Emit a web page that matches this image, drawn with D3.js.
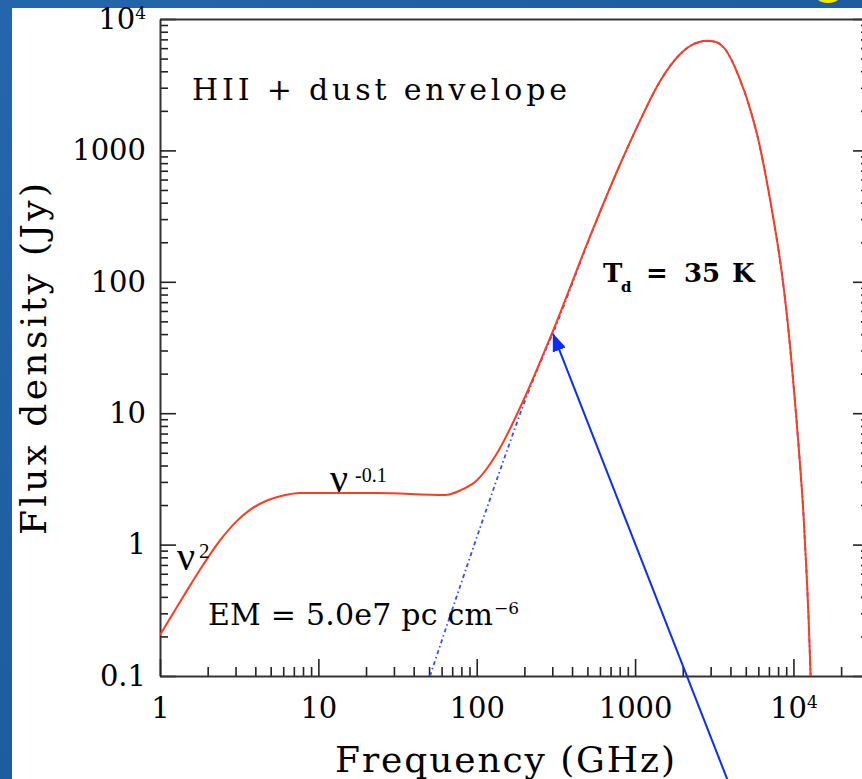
<!DOCTYPE html>
<html>
<head>
<meta charset="utf-8">
<script src="https://cdn.jsdelivr.net/npm/d3@7"></script>
<style>
  body { margin: 0; background: #1c5ca3; }
  svg { display: block; }
</style>
</head>
<body>
<svg id="chart" width="862" height="779"></svg>
<script>
// frequency (GHz) / flux density (Jy)
const freqTotal = [1, 1.397, 1.869, 2.393, 3.063, 3.701, 4.74, 5.981, 7.657, 23.46, 63.06, 78.43, 100.4, 134.3, 196, 303.1, 534.6, 780.3, 1028, 1437, 1922, 2222, 2570, 2846, 3151, 3697, 4531, 5396, 6107, 6761, 7570, 8140, 8718, 9163, 9569, 9951, 10335, 10765, 11130, 11540, 11864, 12196, 12483, 12666, 12833];
const fluxTotal = [0.205, 0.399, 0.699, 1.076, 1.515, 1.837, 2.166, 2.368, 2.475, 2.47, 2.385, 2.58, 3.085, 4.953, 12.32, 42.38, 241.8, 722, 1502, 3362, 5397, 6231, 6706, 6825, 6742, 5911, 3620, 1960, 1099, 595, 275.4, 160, 86.6, 51.2, 30.3, 17.9, 10.57, 5.73, 3.39, 1.8, 0.959, 0.501, 0.262, 0.158, 0.1];

const freqDust = [50.7, 67.82, 86.83, 104.9, 134.3, 162.3, 196, 243.8, 303.1, 534.6, 780.3, 1028, 1437, 1922, 2222, 2570, 2846, 3151, 3697, 4531, 5396, 6107, 6761, 7570, 8140, 8718, 9163, 9569, 9951, 10335, 10765, 11130, 11540, 11864, 12196, 12483, 12666, 12833];
const fluxDust = [0.1, 0.286, 0.687, 1.338, 3.157, 6.036, 11.34, 22.08, 40.77, 239.4, 719.6, 1500, 3360, 5395, 6229, 6704, 6823, 6740, 5909, 3618, 1958, 1097, 593, 274, 159, 86, 50.8, 30, 17.7, 10.45, 5.67, 3.36, 1.79, 0.955, 0.5, 0.262, 0.158, 0.1];

const xMajor = [1, 10, 100, 1000, 10000];
const xLabels = ["1", "10", "100", "1000", "10|4"];
const yMajor = [0.1, 1, 10, 100, 1000, 10000];
const yLabels = ["0.1", "1", "10", "100", "1000", "10|4"];

// arrow annotation, data coords (tail is below the frame)
const arrowFreq = [3818, 303.8];
const arrowFlux = [0.0164, 40];

const plot = {left: 160, top: 19, right: 869, bottom: 676};
const hershey = "'DejaVu Serif', serif";
const times = "'Liberation Serif', 'Times New Roman', serif";

const svg = d3.select("#chart");

// blue slide background + white panel
const defs = svg.append("defs");
const grad = defs.append("linearGradient").attr("id", "bg").attr("x1", 0).attr("y1", 0).attr("x2", 1).attr("y2", 1);
grad.append("stop").attr("offset", 0).attr("stop-color", "#2466ad");
grad.append("stop").attr("offset", 1).attr("stop-color", "#16528f");
svg.append("rect").attr("width", 862).attr("height", 779).attr("fill", "url(#bg)");
svg.append("circle").attr("cx", 828).attr("cy", -15).attr("r", 18).attr("fill", "#f4e400");
svg.append("rect").attr("x", 12).attr("y", 8).attr("width", 850).attr("height", 771).attr("fill", "#fff");

defs.append("clipPath").attr("id", "clip").append("rect")
  .attr("x", plot.left).attr("y", plot.top)
  .attr("width", plot.right - plot.left).attr("height", plot.bottom - plot.top);

const x = d3.scaleLog().domain([1, 3e4]).range([plot.left, plot.right]);
const y = d3.scaleLog().domain([0.1, 1e4]).range([plot.bottom, plot.top]);

function supLabel(sel) {
  sel.each(function() {
    const t = d3.select(this);
    const s = t.text();
    if (s.includes("|")) {
      const [base, exp] = s.split("|");
      t.text(base);
      t.append("tspan").attr("font-size", 17).attr("dy", "-0.55em").text(exp);
    }
  });
}

function styleAxis(g) {
  g.selectAll(".tick line").attr("stroke", "#222").attr("stroke-width", 1.6);
  g.selectAll(".domain").attr("stroke", "#333").attr("stroke-width", 2);
  g.selectAll("text").attr("fill", "#000").attr("font-family", hershey).attr("font-size", 29);
}

// minor ticks
const yMinor = y.ticks().filter(d => !yMajor.includes(d));
const xMinor = x.ticks().filter(d => !xMajor.includes(d));

svg.append("g").attr("transform", `translate(${plot.left},0)`)
  .call(d3.axisLeft(y).tickValues(yMinor).tickSize(-8).tickFormat(""))
  .call(g => g.select(".domain").remove()).call(styleAxis);
svg.append("g").attr("transform", `translate(${plot.right},0)`)
  .call(d3.axisRight(y).tickValues(yMinor).tickSize(-8).tickFormat(""))
  .call(g => g.select(".domain").remove()).call(styleAxis);
svg.append("g").attr("transform", `translate(0,${plot.bottom})`)
  .call(d3.axisBottom(x).tickValues(xMinor).tickSize(-9).tickFormat(""))
  .call(g => g.select(".domain").remove()).call(styleAxis);

// major ticks + labels
svg.append("g").attr("transform", `translate(${plot.left},0)`)
  .call(d3.axisLeft(y).tickValues(yMajor).tickSize(-16).tickSizeOuter(0).tickPadding(14)
    .tickFormat((d, i) => yLabels[i]))
  .call(styleAxis)
  .call(g => g.selectAll("text").call(supLabel));
svg.append("g").attr("transform", `translate(${plot.right},0)`)
  .call(d3.axisRight(y).tickValues(yMajor).tickSize(-16).tickSizeOuter(0).tickFormat(""))
  .call(styleAxis);
svg.append("g").attr("transform", `translate(0,${plot.bottom})`)
  .call(d3.axisBottom(x).tickValues(xMajor).tickSize(-17).tickSizeOuter(0).tickPadding(21)
    .tickFormat((d, i) => xLabels[i]))
  .call(styleAxis)
  .call(g => g.selectAll("text").call(supLabel));
svg.append("g").attr("transform", `translate(0,${plot.top})`)
  .call(d3.axisTop(x).tickValues([]).tickSizeOuter(0))
  .call(styleAxis);

// curves
const line = d3.line().x(d => x(d[0])).y(d => y(d[1])).curve(d3.curveMonotoneX);
const dust = freqDust.map((f, i) => [f, fluxDust[i]]);
const total = freqTotal.map((f, i) => [f, fluxTotal[i]]);

svg.append("path").datum(dust)
  .attr("clip-path", "url(#clip)")
  .attr("d", line).attr("fill", "none")
  .attr("stroke", "#2f4dff").attr("stroke-width", 1.8)
  .attr("stroke-dasharray", "4,3,1.5,3");
svg.append("path").datum(total)
  .attr("clip-path", "url(#clip)")
  .attr("d", line).attr("fill", "none")
  .attr("stroke", "#ff3b1e").attr("stroke-width", 2);

// axis titles
svg.append("text").attr("x", 335).attr("y", 772)
  .attr("font-family", hershey).attr("font-size", 36)
  .attr("textLength", 340).attr("lengthAdjust", "spacing")
  .text("Frequency (GHz)");
svg.append("text").attr("transform", "translate(46,535) rotate(-90)")
  .attr("font-family", hershey).attr("font-size", 36)
  .attr("textLength", 352).attr("lengthAdjust", "spacing")
  .text("Flux density (Jy)");

// annotations
svg.append("text").attr("x", 192).attr("y", 100)
  .attr("font-family", hershey).attr("font-size", 30)
  .attr("textLength", 375).attr("lengthAdjust", "spacing")
  .text("HII + dust envelope");

const em = svg.append("text").attr("font-family", hershey).attr("font-size", 30);
em.append("tspan").attr("x", 208).attr("y", 625)
  .attr("textLength", 285).attr("lengthAdjust", "spacing").text("EM = 5.0e7 pc cm");
em.append("tspan").attr("x", 494).attr("y", 614).attr("font-size", 17).text("\u22126");

const td = svg.append("text").attr("font-family", hershey).attr("font-weight", "bold").attr("font-size", 26);
td.append("tspan").attr("x", 603).attr("y", 282).text("T");
td.append("tspan").attr("x", 621).attr("y", 292).attr("font-size", 15).text("d");
td.append("tspan").attr("x", 646).attr("y", 282).text("=");
td.append("tspan").attr("x", 684).attr("y", 282).text("35");
td.append("tspan").attr("x", 732).attr("y", 282).text("K");

const nu1 = svg.append("text").attr("font-family", times).attr("fill", "#000");
nu1.append("tspan").attr("x", 330).attr("y", 492).attr("font-size", 40).text("\u03bd");
nu1.append("tspan").attr("x", 355).attr("y", 482).attr("font-size", 20).text("-0.1");

const nu2 = svg.append("text").attr("font-family", times).attr("fill", "#000");
nu2.append("tspan").attr("x", 177).attr("y", 570).attr("font-size", 40).text("\u03bd");
nu2.append("tspan").attr("x", 199).attr("y", 558).attr("font-size", 21).text("2");

// arrow
defs.append("marker").attr("id", "head")
  .attr("markerUnits", "userSpaceOnUse")
  .attr("viewBox", "0 0 18 14").attr("refX", 17).attr("refY", 7)
  .attr("markerWidth", 18).attr("markerHeight", 14).attr("orient", "auto")
  .append("path").attr("d", "M0,0 L18,7 L0,14 Z").attr("fill", "#0a2cff");
svg.append("line")
  .attr("x1", x(arrowFreq[0])).attr("y1", y(arrowFlux[0]))
  .attr("x2", x(arrowFreq[1])).attr("y2", y(arrowFlux[1]))
  .attr("stroke", "#0a2cff").attr("stroke-width", 2)
  .attr("marker-end", "url(#head)");
</script>
</body>
</html>
